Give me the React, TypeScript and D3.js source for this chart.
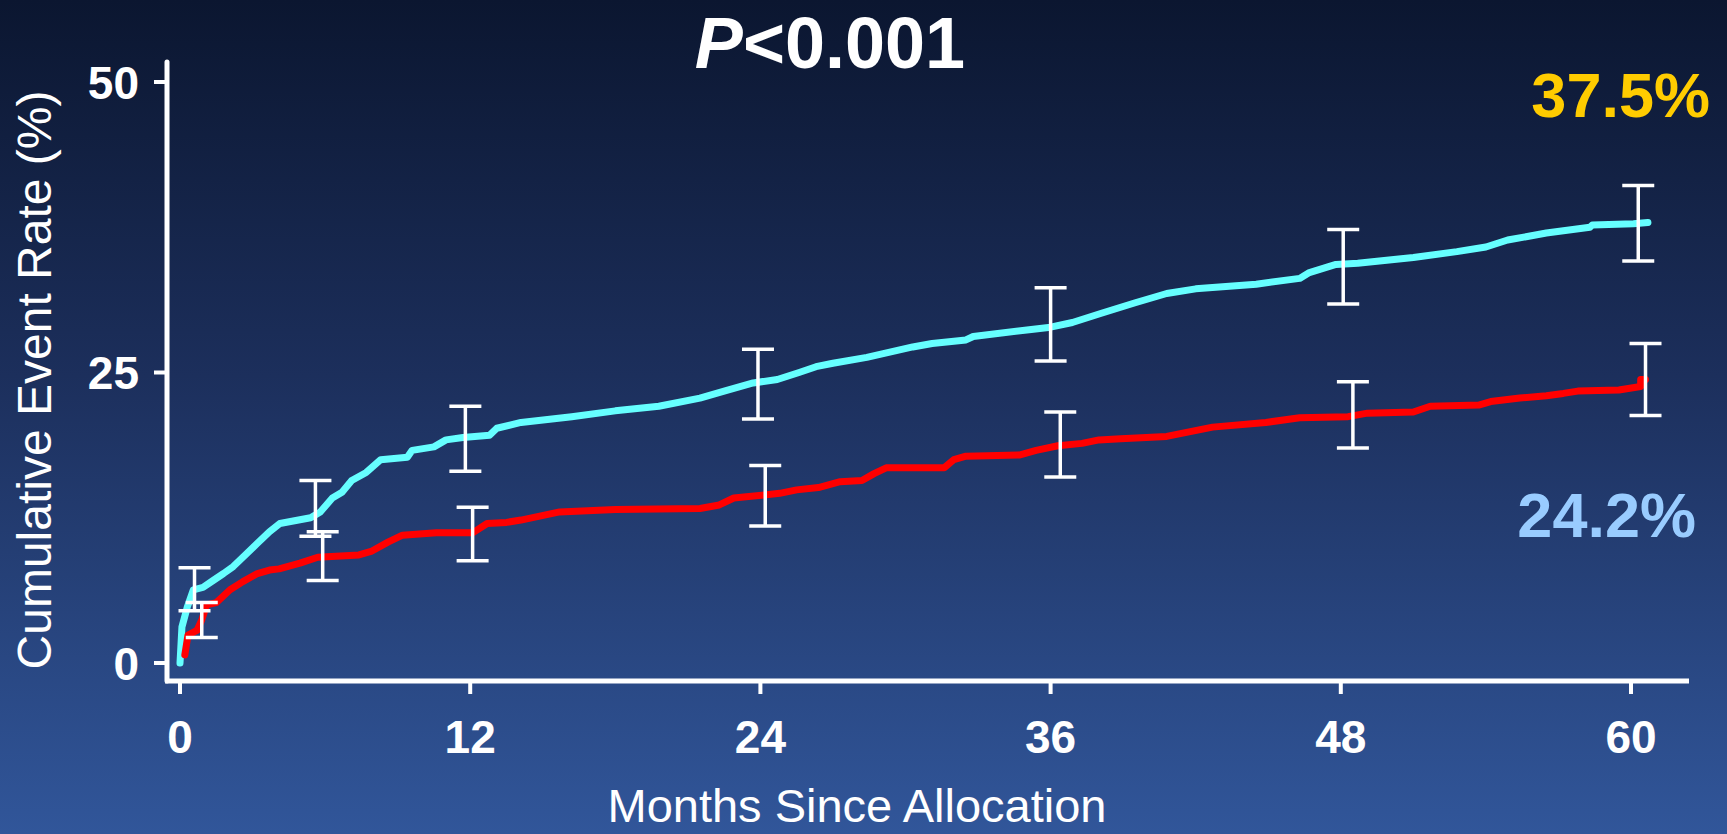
// Cumulative event rate, Kaplan-Meier style chart
import React from "react";
import { scaleLinear, line } from "d3";

const W = 1727;
const H = 834;

const xTicks = [0, 12, 24, 36, 48, 60];
const yTicks = [0, 25, 50];

// upper (cyan) arm
const cyanMonths = [0, 0.08, 0.3, 0.55, 0.95, 1.37, 1.8, 2.2, 2.6, 3.2, 3.7, 4.13, 5.4, 5.8, 6.3, 6.7, 7.1, 7.7, 8.3, 9.4, 9.6, 10.5, 11.0, 11.7, 12.8, 13.1, 14.1, 16.2, 18.0, 19.8, 21.5, 22.5, 23.7, 24.7, 25.6, 26.3, 27.0, 28.4, 30.3, 31.1, 32.5, 32.8, 35.2, 36.0, 36.9, 38.1, 39.5, 40.8, 42.0, 44.5, 46.3, 46.7, 47.8, 48.7, 51.0, 52.8, 54.0, 54.9, 56.5, 58.3, 58.4, 60.1, 60.7];
const cyanRates = [0, 3.1, 4.8, 6.3, 6.5, 7.1, 7.7, 8.3, 9.1, 10.3, 11.3, 12.0, 12.5, 13.0, 14.2, 14.7, 15.7, 16.4, 17.5, 17.7, 18.3, 18.6, 19.2, 19.4, 19.6, 20.2, 20.7, 21.2, 21.7, 22.1, 22.8, 23.4, 24.1, 24.4, 25.0, 25.5, 25.8, 26.3, 27.2, 27.5, 27.8, 28.1, 28.7, 28.9, 29.3, 30.1, 31.0, 31.8, 32.2, 32.6, 33.1, 33.6, 34.3, 34.4, 34.9, 35.4, 35.8, 36.4, 37.0, 37.5, 37.7, 37.8, 37.9];

// lower (red) arm
const redMonths = [0.2, 0.33, 0.7, 0.9, 1.1, 1.5, 2.07, 2.6, 3.2, 3.7, 4.1, 4.96, 5.7, 7.4, 7.9, 8.6, 9.2, 10.6, 12.1, 12.7, 13.5, 14.1, 15.7, 18.0, 21.5, 22.3, 22.9, 24.8, 25.5, 26.4, 27.3, 28.2, 28.7, 29.2, 31.6, 32.0, 32.5, 34.7, 35.4, 36.3, 37.3, 38.0, 38.9, 40.8, 42.7, 44.9, 46.3, 48.3, 49.1, 51.0, 51.7, 53.7, 54.2, 55.4, 56.5, 57.2, 57.8, 59.5, 60.4, 60.4, 60.6];
const redRates = [0.7, 2.4, 2.8, 3.7, 5.0, 5.2, 6.3, 7.0, 7.7, 8.0, 8.1, 8.6, 9.1, 9.3, 9.6, 10.4, 11.0, 11.2, 11.2, 12.0, 12.1, 12.3, 13.0, 13.2, 13.3, 13.6, 14.2, 14.6, 14.9, 15.1, 15.6, 15.7, 16.3, 16.8, 16.8, 17.5, 17.8, 17.9, 18.3, 18.7, 18.9, 19.2, 19.3, 19.5, 20.3, 20.7, 21.1, 21.2, 21.5, 21.6, 22.1, 22.2, 22.5, 22.8, 23.0, 23.2, 23.4, 23.5, 23.8, 24.4, 24.4];

// 95% CI bars
const cyanBarMonths = [0.6, 5.6, 11.8, 23.9, 36.0, 48.1, 60.3];
const cyanBarLow = [4.5, 10.9, 16.5, 21.0, 26.0, 30.9, 34.6];
const cyanBarHigh = [8.2, 15.7, 22.1, 27.0, 32.3, 37.3, 41.1];
const redBarMonths = [0.9, 5.9, 12.1, 24.2, 36.4, 48.5, 60.6];
const redBarLow = [2.2, 7.1, 8.8, 11.8, 16.0, 18.5, 21.3];
const redBarHigh = [5.2, 11.3, 13.4, 17.0, 21.6, 24.2, 27.5];

const cyanLabel = "37.5%";
const redLabel = "24.2%";

const font = "'Liberation Sans', Arial, Helvetica, sans-serif";

const App = () => {
    const xScale = scaleLinear().domain([0, 60]).range([180, 1631]);
    const yScale = scaleLinear().domain([0, 50]).range([663, 82]);

    const axisX = 167;
    const axisY = 681;

    const makePath = (ms: number[], rs: number[]) =>
        line<number>()
            .x((m) => xScale(m))
            .y((_, i) => yScale(rs[i]))(ms);

    const bars = (ms: number[], lo: number[], hi: number[], key: string) =>
        ms.map((m, i) => {
            const x = xScale(m);
            const y1 = yScale(hi[i]);
            const y2 = yScale(lo[i]);
            return (
                <g key={key + i} stroke="#ffffff" strokeWidth={3.5}>
                    <line x1={x} x2={x} y1={y1} y2={y2} />
                    <line x1={x - 16} x2={x + 16} y1={y1} y2={y1} />
                    <line x1={x - 16} x2={x + 16} y1={y2} y2={y2} />
                </g>
            );
        });

    return (
        <svg
            width={W}
            height={H}
            style={{ position: "absolute", left: 0, top: 0, display: "block" }}
            fontFamily={font}
        >
            <defs>
                <linearGradient id="bg" x1="0" y1="0" x2="0" y2="1">
                    <stop offset="0%" stopColor="#0b1630" />
                    <stop offset="45%" stopColor="#1c2f5c" />
                    <stop offset="100%" stopColor="#31569a" />
                </linearGradient>
            </defs>
            <rect x={0} y={0} width={W} height={H} fill="url(#bg)" />

            {/* axes */}
            <line x1={axisX} y1={62} x2={axisX} y2={axisY} stroke="#fff" strokeWidth={5} strokeLinecap="round" />
            <line x1={axisX - 2} y1={axisY} x2={1689} y2={axisY} stroke="#fff" strokeWidth={5} />

            {yTicks.map((t) => (
                <g key={"y" + t}>
                    <line x1={154} x2={axisX} y1={yScale(t)} y2={yScale(t)} stroke="#fff" strokeWidth={4} />
                    <text
                        x={139}
                        y={yScale(t)}
                        dy="0.36em"
                        textAnchor="end"
                        fill="#fff"
                        fontSize={46}
                        fontWeight="bold"
                    >
                        {t}
                    </text>
                </g>
            ))}

            {xTicks.map((t) => (
                <g key={"x" + t}>
                    <line x1={xScale(t)} x2={xScale(t)} y1={axisY} y2={694} stroke="#fff" strokeWidth={4} />
                    <text
                        x={xScale(t)}
                        y={753}
                        textAnchor="middle"
                        fill="#fff"
                        fontSize={46}
                        fontWeight="bold"
                    >
                        {t}
                    </text>
                </g>
            ))}

            <text
                transform={`translate(51,380) rotate(-90)`}
                textAnchor="middle"
                fill="#fff"
                fontSize={48}
            >
                Cumulative Event Rate (%)
            </text>
            <text x={857} y={822} textAnchor="middle" fill="#fff" fontSize={47}>
                Months Since Allocation
            </text>

            <text x={830} y={68} textAnchor="middle" fill="#fff" fontSize={72} fontWeight="bold">
                <tspan fontStyle="italic">P</tspan>
                <tspan>{"<0.001"}</tspan>
            </text>

            <text x={1710} y={117} textAnchor="end" fill="#ffcc00" fontSize={63} fontWeight="bold">
                {cyanLabel}
            </text>
            <text x={1696} y={537} textAnchor="end" fill="#99ccff" fontSize={63} fontWeight="bold">
                {redLabel}
            </text>

            {/* curves */}
            <path
                d={makePath(cyanMonths, cyanRates) || ""}
                fill="none"
                stroke="#66ffff"
                strokeWidth={7}
                strokeLinejoin="round"
                strokeLinecap="round"
            />
            <path
                d={makePath(redMonths, redRates) || ""}
                fill="none"
                stroke="#ff0000"
                strokeWidth={7}
                strokeLinejoin="round"
                strokeLinecap="round"
            />

            {bars(cyanBarMonths, cyanBarLow, cyanBarHigh, "c")}
            {bars(redBarMonths, redBarLow, redBarHigh, "r")}
        </svg>
    );
};

export default App;
